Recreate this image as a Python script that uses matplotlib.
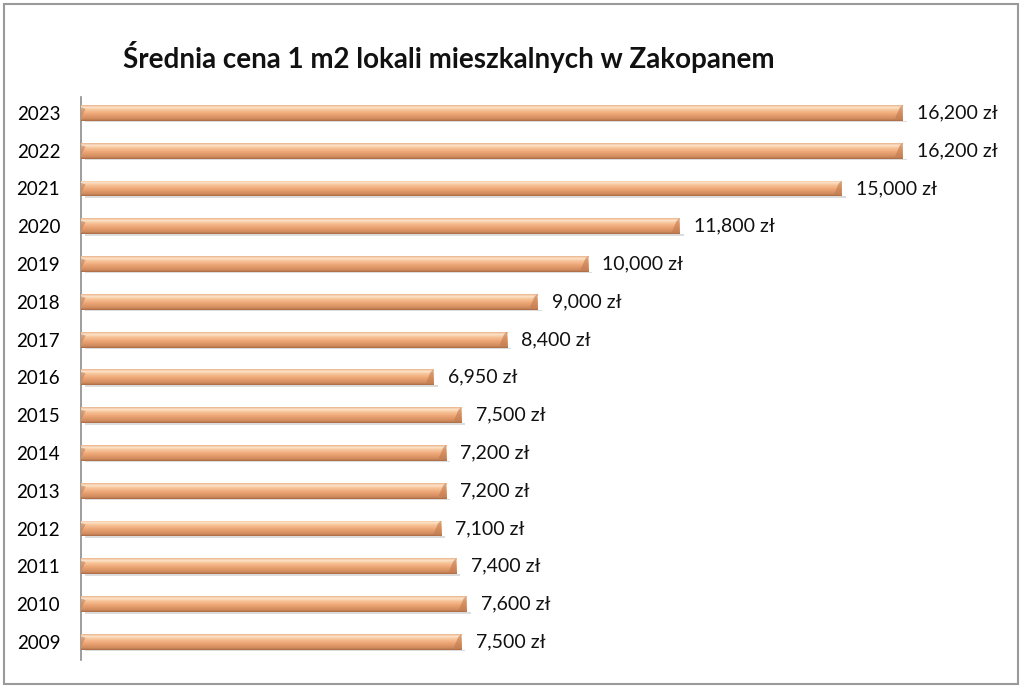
import numpy as np
import matplotlib
matplotlib.use('Agg')
import matplotlib.pyplot as plt
from matplotlib.colors import LinearSegmentedColormap
from matplotlib.patches import Rectangle, Polygon

plt.rcParams['font.family'] = ['Lato', 'DejaVu Sans']

# dane
lata = ['2009', '2010', '2011', '2012', '2013', '2014', '2015', '2016',
        '2017', '2018', '2019', '2020', '2021', '2022', '2023']
ceny = [7500, 7600, 7400, 7100, 7200, 7200, 7500, 6950,
        8400, 9000, 10000, 11800, 15000, 16200, 16200]
tytul = 'Średnia cena 1 m2 lokali mieszkalnych w Zakopanem'

fig = plt.figure(figsize=(10.24, 6.88), dpi=100)
ax = fig.add_axes([81 / 1024, 1 - 660 / 688, (994 - 81) / 1024, (660 - 97) / 688])

# ramka wokol calego wykresu
fig.patches.append(Rectangle((4 / 1024, 4 / 688), 1014 / 1024, 680 / 688,
                             transform=fig.transFigure, fill=False,
                             edgecolor='#9a9a9a', linewidth=1.5))

y = np.arange(len(lata))
h = 0.42
bars = ax.barh(y, ceny, height=h, color='#f0b080', edgecolor='none', zorder=2)

# gradient na slupkach
cmap = LinearSegmentedColormap.from_list('miedz', [
    (0.0, '#a86a44'), (0.12, '#cf8a5c'), (0.45, '#eea676'),
    (0.72, '#f8c79d'), (0.86, '#fde4cc'), (1.0, '#eab48a')])
grad = np.linspace(0, 1, 64).reshape(-1, 1)
for b in bars:
    x0, y0 = b.get_x(), b.get_y()
    w, hh = b.get_width(), b.get_height()
    im = ax.imshow(grad, cmap=cmap, aspect='auto', origin='lower',
                   extent=[x0, x0 + w, y0, y0 + hh], zorder=3)
    im.set_clip_path(b)
    # cien pod slupkiem
    ax.add_patch(Rectangle((x0 + 80, y0 - 0.04), w, 0.04, color='#dcdcdc',
                           zorder=1, linewidth=0))
    # skos na koncu
    ax.add_patch(Polygon([(x0 + w - 150, y0 + hh * 0.15), (x0 + w - 60, y0 + hh * 0.82),
                          (x0 + w, y0 + hh), (x0 + w, y0)],
                         closed=True, color='#c07a4e', alpha=0.6, zorder=4, linewidth=0))
    # skos na poczatku
    ax.add_patch(Polygon([(x0, y0 + hh * 0.2), (x0 + 90, y0 + hh * 0.75),
                          (x0, y0 + hh * 0.85)],
                         closed=True, color='#b87650', alpha=0.5, zorder=4, linewidth=0))

for yi, v in zip(y, ceny):
    ax.text(v + 280, yi, f'{v:,} zł', va='center', ha='left', fontsize=14,
            color='#111111')

ax.set_xlim(0, 18000)
ax.set_ylim(-0.48, 14.42)
ax.set_yticks(y)
ax.set_yticklabels(lata, fontsize=13.5)
ax.tick_params(axis='y', length=0, pad=15)
ax.set_xticks([])
for s in ['top', 'right', 'bottom']:
    ax.spines[s].set_visible(False)
ax.spines['left'].set_color('#8c8c8c')
ax.spines['left'].set_linewidth(1.2)

fig.text(449 / 1024, 1 - 57 / 688, tytul, ha='center', va='center',
         fontsize=20, fontweight='bold', color='#111111')

fig.savefig('out.png', dpi=100)
